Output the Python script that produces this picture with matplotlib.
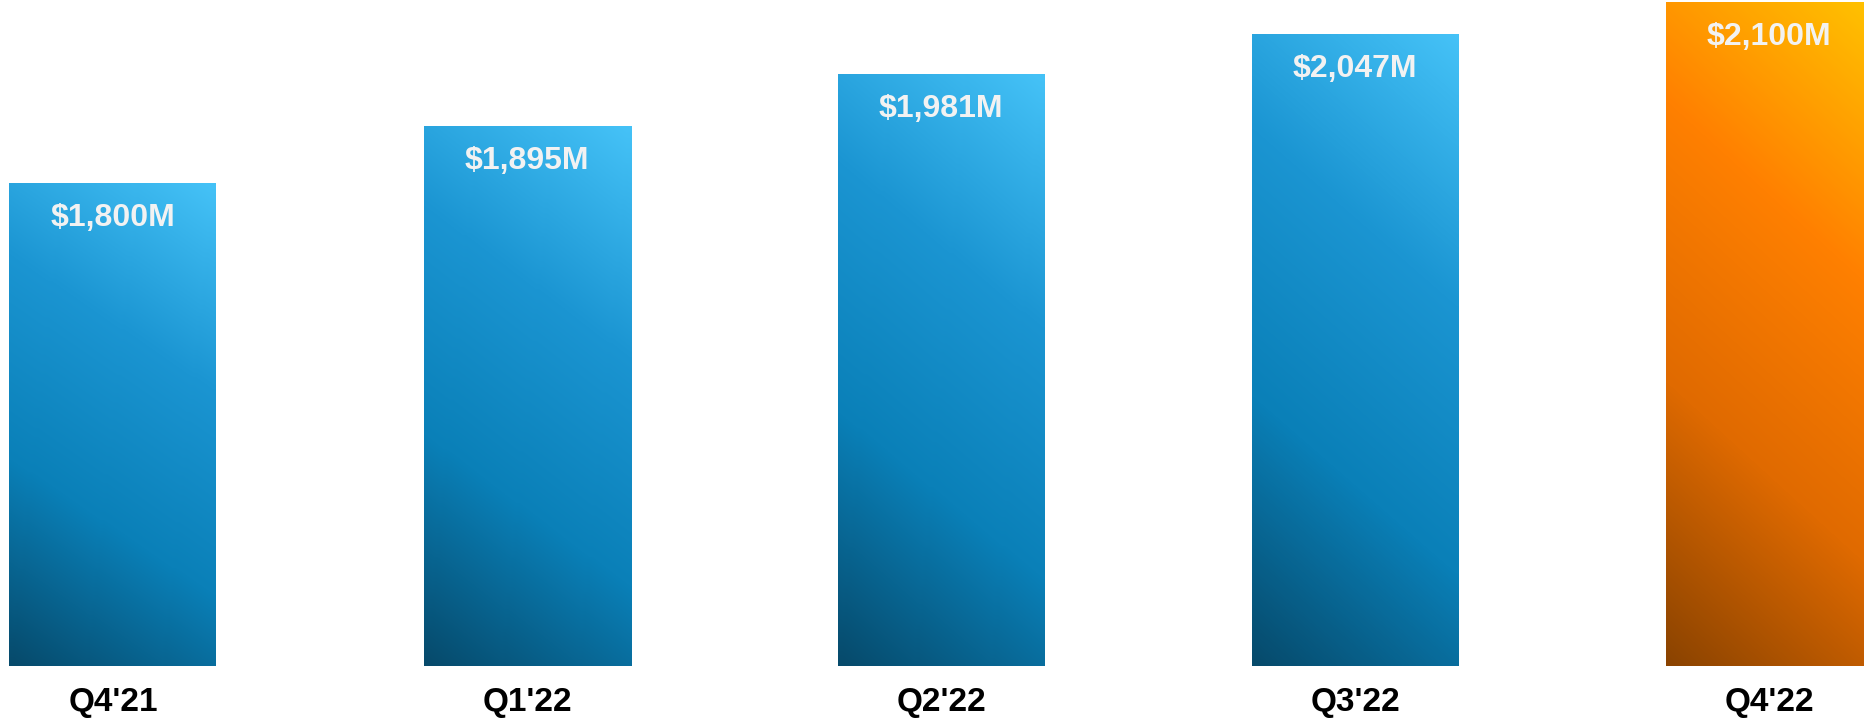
import numpy as np
import matplotlib
matplotlib.use("Agg")
import matplotlib.pyplot as plt
from matplotlib.colors import LinearSegmentedColormap

# data
quarters = ["Q4'21", "Q1'22", "Q2'22", "Q3'22", "Q4'22"]
revenue = [1800, 1895, 1981, 2047, 2100]
labels = ["$1,800M", "$1,895M", "$1,981M", "$2,047M", "$2,100M"]
highlight = [False, False, False, False, True]

blue_cmap = LinearSegmentedColormap.from_list(
    "blue_grad", ["#064a6b", "#0a80b8", "#1b95d2", "#45c2f7"])
orange_cmap = LinearSegmentedColormap.from_list(
    "orange_grad", ["#8a4300", "#e06a00", "#ff8000", "#ffc200"])

plt.rcParams['font.family'] = ['Liberation Sans', 'DejaVu Sans']

fig = plt.figure(figsize=(18.64, 7.21), dpi=100)
ax = fig.add_axes([0, 55 / 721, 1, 666 / 721])

x = np.arange(len(quarters))
bars = ax.bar(x, revenue, width=0.5, bottom=0, color="none", edgecolor="none")

# diagonal gradient: mostly vertical, a bit left -> right
u = np.linspace(0, 1, 60)
v = np.linspace(0, 1, 200)
U, V = np.meshgrid(u, v)
T = 0.78 * V + 0.22 * U

ymin, ymax = 1000, 2104
for bar, hi in zip(bars, highlight):
    x0 = bar.get_x()
    x1 = x0 + bar.get_width()
    y1 = bar.get_height()
    cmap = orange_cmap if hi else blue_cmap
    ax.imshow(T, cmap=cmap, vmin=0, vmax=1, origin="lower", aspect="auto",
              extent=[x0, x1, ymin, y1], interpolation="bilinear", zorder=2)

for xi, val, lab in zip(x, revenue, labels):
    ax.annotate(lab, xy=(xi, val), xytext=(0, -25), textcoords="offset points",
                ha="center", va="center", fontsize=23, fontweight="bold",
                color="#f2f2f2", zorder=3)

ax.set_xlim(-113 / 414, (1864 - 113) / 414)
ax.set_ylim(ymin, ymax)
ax.set_xticks(x, quarters, fontsize=24, fontweight="bold")
ax.tick_params(axis="x", length=0, pad=15)
ax.set_yticks([])
for s in ax.spines.values():
    s.set_visible(False)

fig.savefig("out.png", dpi=100)
